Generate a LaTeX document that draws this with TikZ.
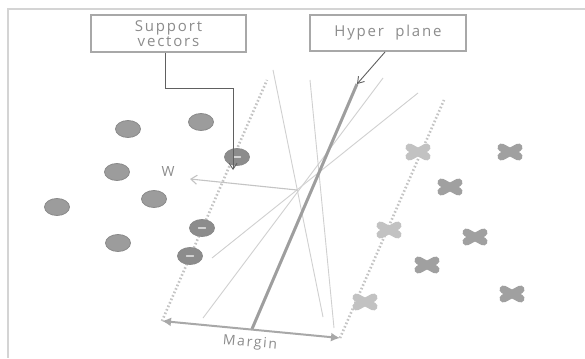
\documentclass[tikz,border=0pt]{standalone}
\usepackage{fontspec}
\setmainfont{Open Sans}
\newfontfamily\lblfont[LetterSpace=12]{Open Sans}
\usetikzlibrary{arrows.meta,shapes.geometric}
\definecolor{framec}{HTML}{D4D4D4}
\definecolor{boxc}{HTML}{A8A8A8}
\definecolor{txtc}{HTML}{8C8C8C}
\definecolor{ptc}{HTML}{9C9C9C}
\definecolor{ptedge}{HTML}{8A8A8A}
\definecolor{xdark}{HTML}{A0A0A0}
\definecolor{xlightc}{HTML}{C2C2C2}
\definecolor{linec}{HTML}{D0D0D0}
\definecolor{hypc}{HTML}{9E9E9E}
\definecolor{dotc}{HTML}{C4C4C4}
\tikzset{
  labelbox/.style={draw=boxc, line width=2pt, fill=white, text=txtc,
    font=\lblfont\fontsize{15}{17}\selectfont, align=center, inner sep=0pt},
  dot/.style={ellipse, fill=ptc, draw=ptedge, line width=0.8pt,
    minimum width=25pt, minimum height=17pt, inner sep=0pt},
  svdot/.style={dot, fill=ptc!90!black},
  xmark/.pic={\draw[line width=8pt, line cap=round] (-8.5,-4.5) -- (8.5,4.5) (-8.5,4.5) -- (8.5,-4.5);},
  xdk/.style={color=xdark},
  xlt/.style={color=xlightc},
  altline/.style={linec, line width=0.9pt},
  marginline/.style={dotc, line width=2.6pt, dash pattern=on 1.6pt off 2.2pt},
  pointer/.style={draw=gray!75!black, line width=0.9pt, -{Straight Barb[length=6pt,width=8pt]}},
}
\begin{document}
\begin{tikzpicture}[x=1pt,y=-1pt]
\useasboundingbox (0,0) rectangle (585,358);
\fill[white] (0,0) rectangle (585,358);

% outer frame
\draw[framec, line width=1.6pt] (585,9) -- (8,9) -- (8,358);

% key points of the separating geometry
\coordinate (hpTop) at (357,84);
\coordinate (hpBot) at (252,329);
\coordinate (mL) at (162,321);
\coordinate (mR) at (340,338);
\coordinate (mLtop) at (267,80);
\coordinate (mRtop) at (444,100);
\coordinate (wFrom) at (297,190);
\coordinate (wTo) at (190,179);

% other candidate separating lines
\draw[altline] (273,70) -- (323,317);
\draw[altline] (310,80) -- (334,328);
\draw[altline] (383,78) -- (203,318);
\draw[altline] (418,93) -- (212,258);

% margin boundaries
\draw[marginline] (mL) -- (mLtop);
\draw[marginline] (mR) -- (mRtop);

% normal vector w
\draw[linec!85!gray, line width=1.1pt, -{Straight Barb[length=6pt,width=9pt]}] (wFrom) -- (wTo);
\node[text=txtc, font=\fontsize{14}{14}\selectfont] (wlab) at (168,172) {W};

% optimal hyperplane
\draw[hypc, line width=3pt] (hpBot) -- (hpTop);

% margin width
\draw[boxc, line width=2pt, {Latex[length=9pt,width=9pt]}-{Latex[length=9pt,width=9pt]}] (mL) -- (mR);
\node[text=txtc, font=\lblfont\fontsize{14}{14}\selectfont, rotate=-5] (mlab) at (250,343) {Margin};

% class one: circles
\node[dot] (c1) at (128,129) {};
\node[dot] (c2) at (201,122) {};
\node[dot] (c3) at (117,172) {};
\node[dot] (c4) at (57,207) {};
\node[dot] (c5) at (154,199) {};
\node[dot] (c6) at (118,243) {};
% support vectors of class one
\node[svdot] (s1) at (237,157) {};
\node[svdot] (s2) at (202,228) {};
\node[svdot] (s3) at (190,256) {};
\foreach \s in {s1,s2,s3}
  \draw[ptc!45!white, line width=1.2pt, line cap=round] ([xshift=-3.5pt]\s.center) -- ([xshift=3.5pt]\s.center);

% class two: crosses
\foreach \p in {(510,152),(450,187),(475,237),(427,265),(512,294)}
  \path \p pic[xdk]{xmark};
\foreach \p in {(418,152),(389,230),(365,302)}
  \path \p pic[xlt]{xmark};

% labels
\node[labelbox, minimum width=155pt, minimum height=37pt] (sv) at (168.5,33.5) {Support\\[-2pt]vectors};
\node[labelbox, minimum width=156pt, minimum height=36pt] (hp) at (388,33) {Hyper\ \ plane};

% pointers
\draw[pointer] (sv.south -| 165,0) |- (233,88) -- ([yshift=-13pt]s1.center -| 233,0);
\draw[pointer] (hp.south -| 385,0) -- (hpTop);
\end{tikzpicture}
\end{document}
